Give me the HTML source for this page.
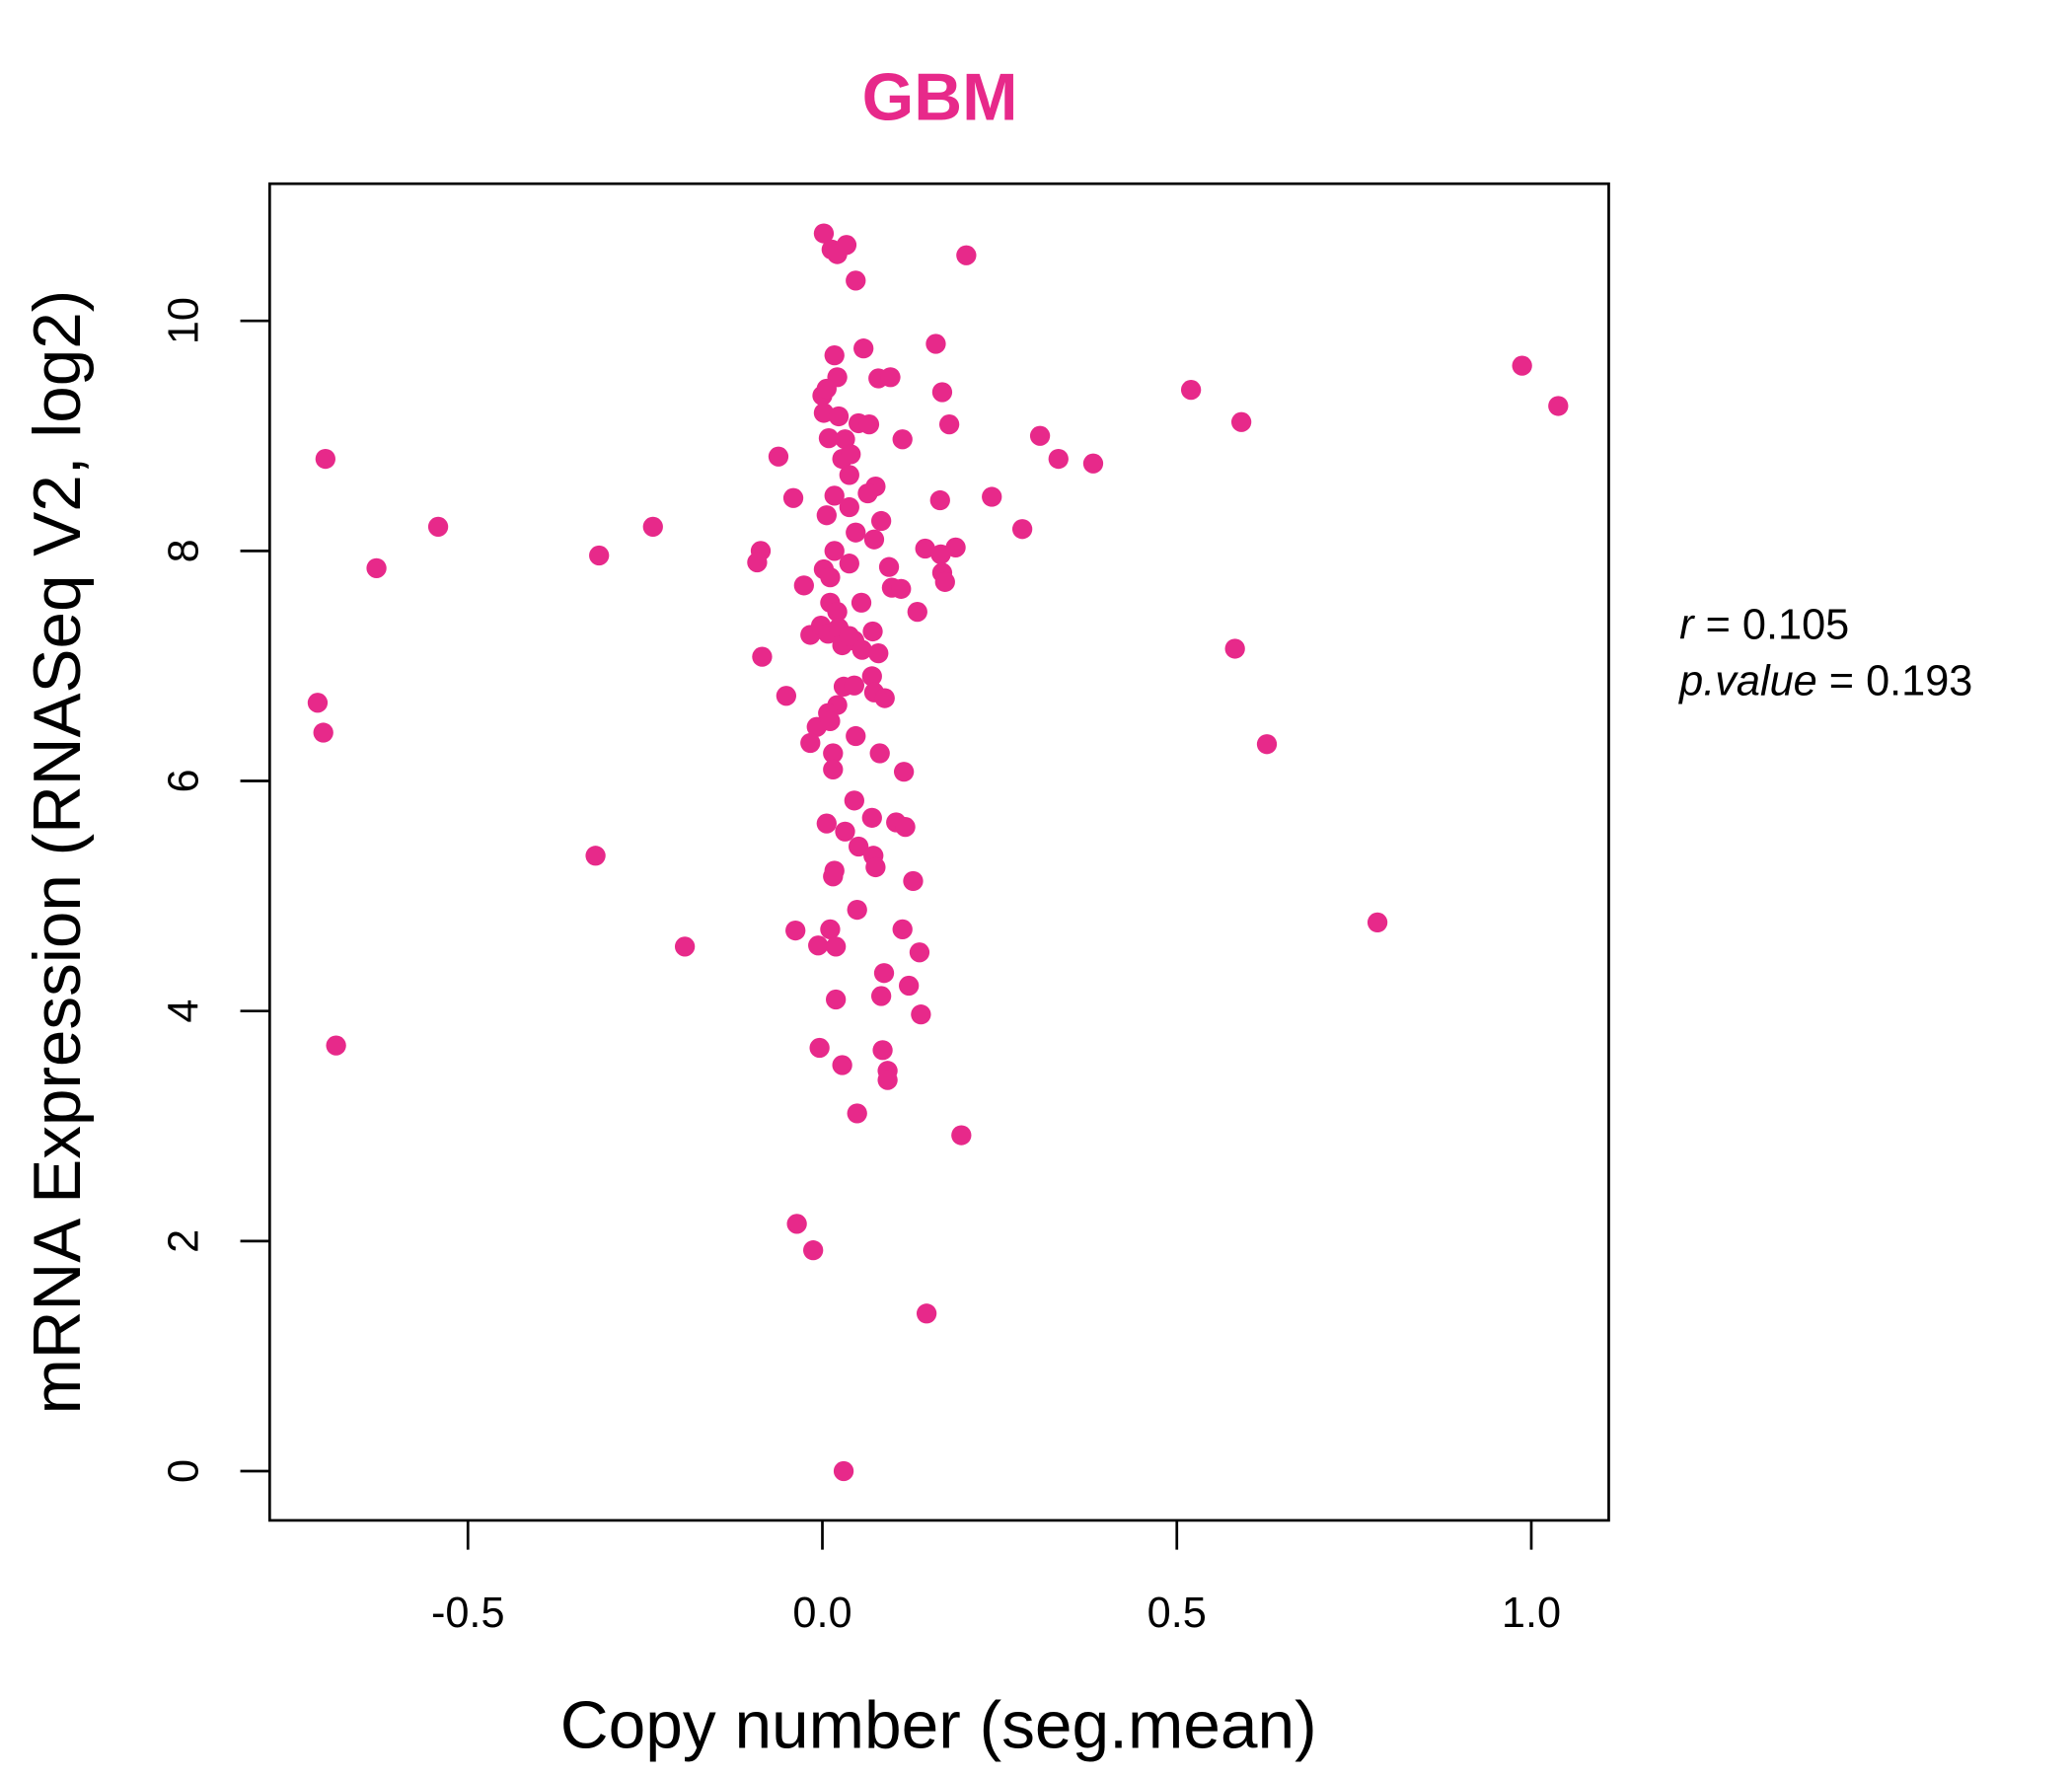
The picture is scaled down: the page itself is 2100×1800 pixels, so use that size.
<!DOCTYPE html>
<html><head><meta charset="utf-8"><style>html,body{margin:0;padding:0;background:#fff}svg{display:block}</style></head>
<body>
<svg id="chart" width="2100" height="1800" viewBox="0 0 1552 1334" preserveAspectRatio="none" xmlns="http://www.w3.org/2000/svg" font-family="Liberation Sans, sans-serif">
<rect width="1552" height="1334" fill="#fff"/>
<text x="704" y="90" text-anchor="middle" font-size="50" font-weight="bold" fill="#E7298A">GBM</text>
<rect x="202" y="138" width="1003" height="1004" fill="none" stroke="#000" stroke-width="2"/>
<g id="xaxis"></g>
<g id="yaxis"></g>
<g id="points"></g>
<text x="703" y="1313" text-anchor="middle" font-size="50">Copy number (seg.mean)</text>
<text transform="translate(60,640) rotate(-90)" text-anchor="middle" font-size="50">mRNA Expression (RNASeq V2, log2)</text>
<text x="1258" y="480" font-size="32"><tspan font-style="italic">r</tspan> = 0.105</text>
<text x="1258" y="522" font-size="32"><tspan font-style="italic">p.value</tspan> = 0.193</text>
</svg>
<script>
const xTicks = [-0.5, 0.0, 0.5, 1.0];
const xTickLabels = ["-0.5", "0.0", "0.5", "1.0"];
const yTicks = [0, 2, 4, 6, 8, 10];
const yTickLabels = ["0", "2", "4", "6", "8", "10"];
const xValues = [0.002,0.013,0.021,0.034,0.047,0.203,0.160,0.058,0.017,0.021,0.079,0.096,0.0,0.006,0.169,0.520,0.987,1.038,0.591,0.179,0.002,0.023,0.051,0.066,0.009,0.032,0.113,0.307,0.333,0.382,-0.701,-0.062,0.028,0.040,0.038,0.075,0.064,-0.041,0.017,0.038,0.166,0.239,0.006,0.083,-0.542,-0.239,0.282,0.047,0.073,0.017,-0.315,-0.087,-0.092,0.145,0.167,0.188,-0.629,0.002,0.038,0.094,0.011,0.169,0.173,-0.026,0.098,0.111,0.055,0.134,0.011,0.021,-0.017,-0.002,0.008,0.023,0.028,0.045,0.056,0.071,0.038,0.079,-0.085,0.582,-0.712,-0.704,-0.051,0.030,0.045,0.070,0.073,0.088,0.021,0.008,-0.008,0.011,-0.017,0.047,0.627,0.015,0.081,0.015,0.115,0.045,0.006,0.070,0.104,0.117,0.032,0.051,-0.320,0.072,0.075,0.017,0.015,0.128,0.049,0.783,-0.038,0.011,0.113,-0.194,-0.006,0.019,0.137,0.087,0.122,0.019,0.083,0.139,-0.686,-0.004,0.085,0.028,0.092,0.092,0.049,0.196,-0.036,-0.013,0.147,0.030];
const yValues = [10.76,10.62,10.58,10.66,10.35,10.57,9.80,9.76,9.70,9.51,9.50,9.51,9.35,9.41,9.38,9.40,9.61,9.26,9.12,9.10,9.20,9.17,9.11,9.10,8.98,8.97,8.97,9.00,8.80,8.76,8.80,8.82,8.80,8.84,8.66,8.56,8.50,8.46,8.48,8.38,8.44,8.47,8.31,8.26,8.21,8.21,8.19,8.16,8.10,8.00,7.96,8.00,7.90,8.02,7.97,8.03,7.85,7.84,7.89,7.86,7.77,7.81,7.73,7.70,7.68,7.67,7.55,7.47,7.55,7.47,7.27,7.35,7.28,7.33,7.18,7.22,7.14,7.30,7.26,7.11,7.08,7.15,6.68,6.42,6.74,6.82,6.83,6.91,6.77,6.72,6.66,6.59,6.47,6.52,6.33,6.39,6.32,6.24,6.24,6.10,6.08,5.83,5.63,5.68,5.64,5.60,5.56,5.43,5.35,5.35,5.25,5.22,5.17,5.13,4.88,4.77,4.70,4.71,4.71,4.56,4.57,4.56,4.51,4.33,4.22,4.10,4.13,3.97,3.70,3.68,3.66,3.53,3.48,3.40,3.11,2.92,2.15,1.92,1.37,0.0];

const NS = "http://www.w3.org/2000/svg";
function xScale(v){ return 616 + v * 531; }
function yScale(v){ return 1105 - v * 86.4; }

const xg = document.getElementById('xaxis');
xTicks.forEach((t,i)=>{
  const l = document.createElementNS(NS,'line');
  l.setAttribute('x1',xScale(t)); l.setAttribute('x2',xScale(t));
  l.setAttribute('y1',1142); l.setAttribute('y2',1164);
  l.setAttribute('stroke','#000'); l.setAttribute('stroke-width','2');
  
  
  xg.appendChild(l);
  const tx = document.createElementNS(NS,'text');
  tx.setAttribute('x',xScale(t)); tx.setAttribute('y',1222);
  tx.setAttribute('text-anchor','middle'); tx.setAttribute('font-size','32');
  tx.textContent = xTickLabels[i];
  
  
  xg.appendChild(tx);
});
const yg = document.getElementById('yaxis');
yTicks.forEach((t,i)=>{
  const l = document.createElementNS(NS,'line');
  l.setAttribute('x1',180); l.setAttribute('x2',202);
  l.setAttribute('y1',yScale(t)); l.setAttribute('y2',yScale(t));
  l.setAttribute('stroke','#000'); l.setAttribute('stroke-width','2');
  
  
  yg.appendChild(l);
  const tx = document.createElementNS(NS,'text');
  tx.setAttribute('transform','translate(148,'+yScale(t)+') rotate(-90)');
  tx.setAttribute('text-anchor','middle'); tx.setAttribute('font-size','32');
  tx.textContent = yTickLabels[i];
  
  
  yg.appendChild(tx);
});
const pg = document.getElementById('points');
xValues.forEach((x,i)=>{
  const c = document.createElementNS(NS,'circle');
  c.setAttribute('cx',xScale(x)); c.setAttribute('cy',yScale(yValues[i]));
  c.setAttribute('r',7.5); c.setAttribute('fill','#E7298A');
  
  
  pg.appendChild(c);
});
</script>
</body></html>
